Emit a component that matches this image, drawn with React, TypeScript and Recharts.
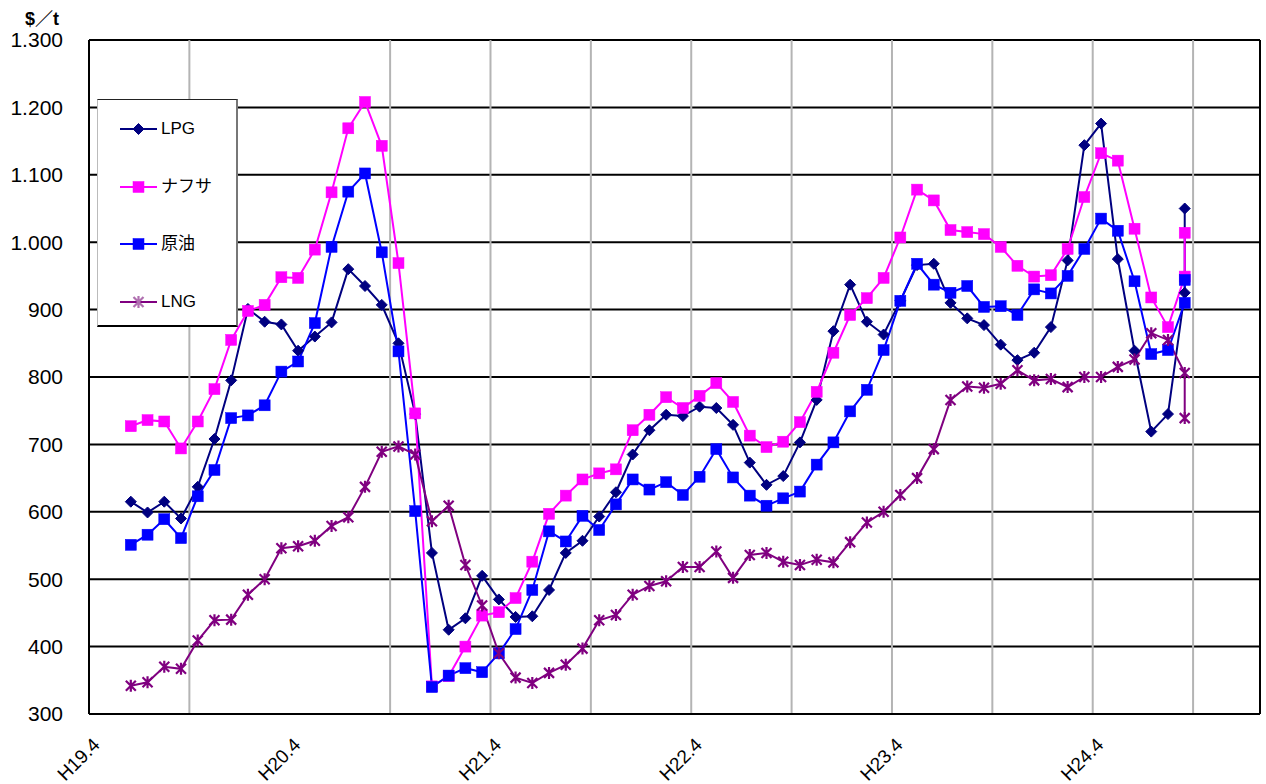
import React from 'react';
import { LineChart, Line, XAxis, YAxis, CartesianGrid, ReferenceLine, Legend } from 'recharts';

const FONT = "'Liberation Sans', Arial, 'Noto Sans CJK JP', sans-serif";

// month offsets from H19.4 (category index); the last category carries two values
const MONTH_OFFSETS = [
  2, 3, 4, 5, 6, 7, 8, 9, 10, 11,
  12, 13, 14, 15, 16, 17, 18, 19, 20, 21,
  22, 23, 24, 25, 26, 27, 28, 29, 30, 31,
  32, 33, 34, 35, 36, 37, 38, 39, 40, 41,
  42, 43, 44, 45, 46, 47, 48, 49, 50, 51,
  52, 53, 54, 55, 56, 57, 58, 59, 60, 61,
  62, 63, 64, 65, 65,
];

const LPG = [
  615, 599, 615, 590, 637, 708, 795, 901, 882, 878,
  839, 860, 881, 960, 935, 907, 850, 745, 539, 425,
  442, 505, 470, 444, 445, 484, 539, 557, 593, 629,
  685, 721, 744, 742, 756, 754, 729, 673, 640, 653,
  703, 766, 868, 937, 882, 863, 913, 966, 968, 910,
  887, 877, 848, 825, 836, 874, 973, 1144, 1176, 975,
  839, 719, 745, 925, 1050,
];

const NAPHTHA = [
  727, 736, 734, 694, 734, 782, 855, 898, 907, 948,
  947, 989, 1074, 1169, 1208, 1143, 969, 746, 341, 356,
  400, 446, 451, 472, 526, 597, 624, 648, 657, 663,
  721, 744, 770, 754, 772, 791, 763, 713, 696, 704,
  733, 778, 836, 892, 917, 947, 1007, 1078, 1062, 1018,
  1015, 1012, 993, 965, 949, 951, 990, 1067, 1132, 1121,
  1020, 918, 874, 949, 1014,
];

const CRUDE = [
  551, 566, 589, 561, 623, 662, 739, 743, 758, 808,
  823, 880, 993, 1075, 1102, 985, 838, 601, 340, 357,
  368, 362, 390, 426, 484, 571, 556, 594, 573, 611,
  648, 633, 644, 625, 652, 693, 651, 624, 609, 620,
  630, 670, 703, 749, 781, 840, 913, 968, 937, 925,
  935, 904, 905, 892, 930, 924, 950, 990, 1035, 1017,
  942, 834, 840, 910, 944,
];

const LNG = [
  342, 347, 370, 367, 409, 439, 440, 477, 500, 546,
  549, 557, 579, 592, 637, 689, 697, 685, 586, 609,
  521, 461, 390, 354, 346, 361, 373, 397, 439, 447,
  477, 490, 497, 518, 518, 541, 502, 536, 539, 526,
  521, 529, 525, 555, 584, 600, 625, 650, 693, 766,
  786, 784, 790, 810, 795, 797, 785, 800, 800, 815,
  826, 865, 855, 806, 739,
];

const X_TICKS = [0, 12, 24, 36, 48, 60];
const X_TICK_LABELS = ['H19.4', 'H20.4', 'H21.4', 'H22.4', 'H23.4', 'H24.4'];
const Y_TICKS = [300, 400, 500, 600, 700, 800, 900, 1000, 1100, 1200, 1300];
const V_GRID = [6, 18, 24, 30, 36, 42, 48, 54, 60, 66];
const X_END = 70;

const SERIES = [
  { key: 'lpg', name: 'LPG', color: '#000080', marker: 'diamond' },
  { key: 'naphtha', name: 'ナフサ', color: '#FF00FF', marker: 'square' },
  { key: 'crude', name: '原油', color: '#0000FF', marker: 'square' },
  { key: 'lng', name: 'LNG', color: '#800080', marker: 'star' },
];

const data = MONTH_OFFSETS.map((m, k) => ({
  m: m + 0.5,
  lpg: LPG[k],
  naphtha: NAPHTHA[k],
  crude: CRUDE[k],
  lng: LNG[k],
}));

const fmtY = (v: number) =>
  v >= 1000 ? `${Math.floor(v / 1000)}.${String(v % 1000).padStart(3, '0')}` : String(v);

function markerShape(kind: string, color: string, cx: number, cy: number, key?: any) {
  if (kind === 'diamond') {
    return (
      <polygon key={key} points={`${cx},${cy - 5.5} ${cx + 5.5},${cy} ${cx},${cy + 5.5} ${cx - 5.5},${cy}`} fill={color} stroke={color} strokeWidth={1} />
    );
  }
  if (kind === 'square') {
    return <rect key={key} x={cx - 5.5} y={cy - 5.5} width={11} height={11} fill={color} stroke={color} strokeWidth={0.5} />;
  }
  return (
    <path
      key={key}
      d={`M${cx - 5},${cy - 5}L${cx + 5},${cy + 5}M${cx - 5},${cy + 5}L${cx + 5},${cy - 5}M${cx},${cy - 6}L${cx},${cy + 6}`}
      stroke={color}
      strokeWidth={2.2}
      fill="none"
    />
  );
}

const makeDot = (kind: string, color: string) => (props: any) => {
  const { cx, cy, index } = props;
  if (cx == null || cy == null) return <g key={index} />;
  return markerShape(kind, color, cx, cy, index);
};

const XTick = (props: any) => {
  const { x, y, payload } = props;
  const label = X_TICK_LABELS[X_TICKS.indexOf(payload.value)];
  const ax = x + 12;
  const ay = y + 24;
  return (
    <text x={ax} y={ay} transform={`rotate(-45 ${ax} ${ay})`} textAnchor="end" fontSize={19} fontFamily={FONT} fill="#000">
      {label}
    </text>
  );
};

const LegendBox = () => (
  <div
    style={{
      width: 141,
      height: 228,
      boxSizing: 'border-box',
      background: '#fff',
      borderTop: '1px solid #222',
      borderLeft: '1px solid #bbb',
      borderRight: '2px solid #777',
      borderBottom: '2px solid #000',
      position: 'relative',
      fontFamily: FONT,
      fontSize: 17,
      color: '#000',
    }}
  >
    {SERIES.map((s, i) => (
      <div key={s.key} style={{ position: 'absolute', left: 22, top: 18 + i * 57.5, height: 22, display: 'flex', alignItems: 'center' }}>
        <svg width={38} height={22} style={{ display: 'block' }}>
          <line x1={0} y1={11} x2={37} y2={11} stroke={s.color} strokeWidth={2} />
          {markerShape(s.marker, s.key === 'lng' ? '#b070b0' : s.color, 18.5, 11)}
        </svg>
        <span style={{ marginLeft: 3, lineHeight: '22px', whiteSpace: 'nowrap' }}>{s.name}</span>
      </div>
    ))}
  </div>
);

export default function App() {
  return (
    <div style={{ position: 'absolute', left: 0, top: 0, width: 1266, height: 784 }}>
      <div style={{ position: 'absolute', left: 25, top: 8, fontSize: 18, fontWeight: 'bold', fontFamily: FONT, color: '#000', lineHeight: '22px' }}>
        $／t
      </div>
      <LineChart width={1266} height={784} data={data} margin={{ top: 40, right: 6, bottom: 4, left: 0 }}>
        <CartesianGrid vertical={false} stroke="#000" strokeWidth={2} />
        {V_GRID.map((v) => (
          <ReferenceLine key={v} x={v} stroke="#b4b4b4" strokeWidth={2} />
        ))}
        <ReferenceLine x={X_END} stroke="#000" strokeWidth={2} />
        <XAxis
          dataKey="m"
          type="number"
          domain={[0, X_END]}
          ticks={X_TICKS}
          interval={0}
          tick={<XTick />}
          tickLine={false}
          axisLine={{ stroke: '#000', strokeWidth: 2 }}
          height={66}
          allowDataOverflow
        />
        <YAxis
          type="number"
          domain={[300, 1300]}
          ticks={Y_TICKS}
          interval={0}
          tickFormatter={fmtY}
          tick={{ fill: '#000', fontSize: 21, fontFamily: FONT }}
          tickLine={false}
          tickMargin={20}
          axisLine={{ stroke: '#000', strokeWidth: 2 }}
          width={89}
        />
        <Legend
          layout="vertical"
          align="center"
          verticalAlign="middle"
          content={<LegendBox />}
          wrapperStyle={{ position: 'absolute', left: 97, top: 99, width: 141, height: 228 }}
        />
        {SERIES.map((s) => (
          <Line
            key={s.key}
            type="linear"
            dataKey={s.key}
            name={s.name}
            stroke={s.color}
            strokeWidth={2}
            dot={makeDot(s.marker, s.color)}
            activeDot={false}
            isAnimationActive={false}
          />
        ))}
      </LineChart>
    </div>
  );
}
